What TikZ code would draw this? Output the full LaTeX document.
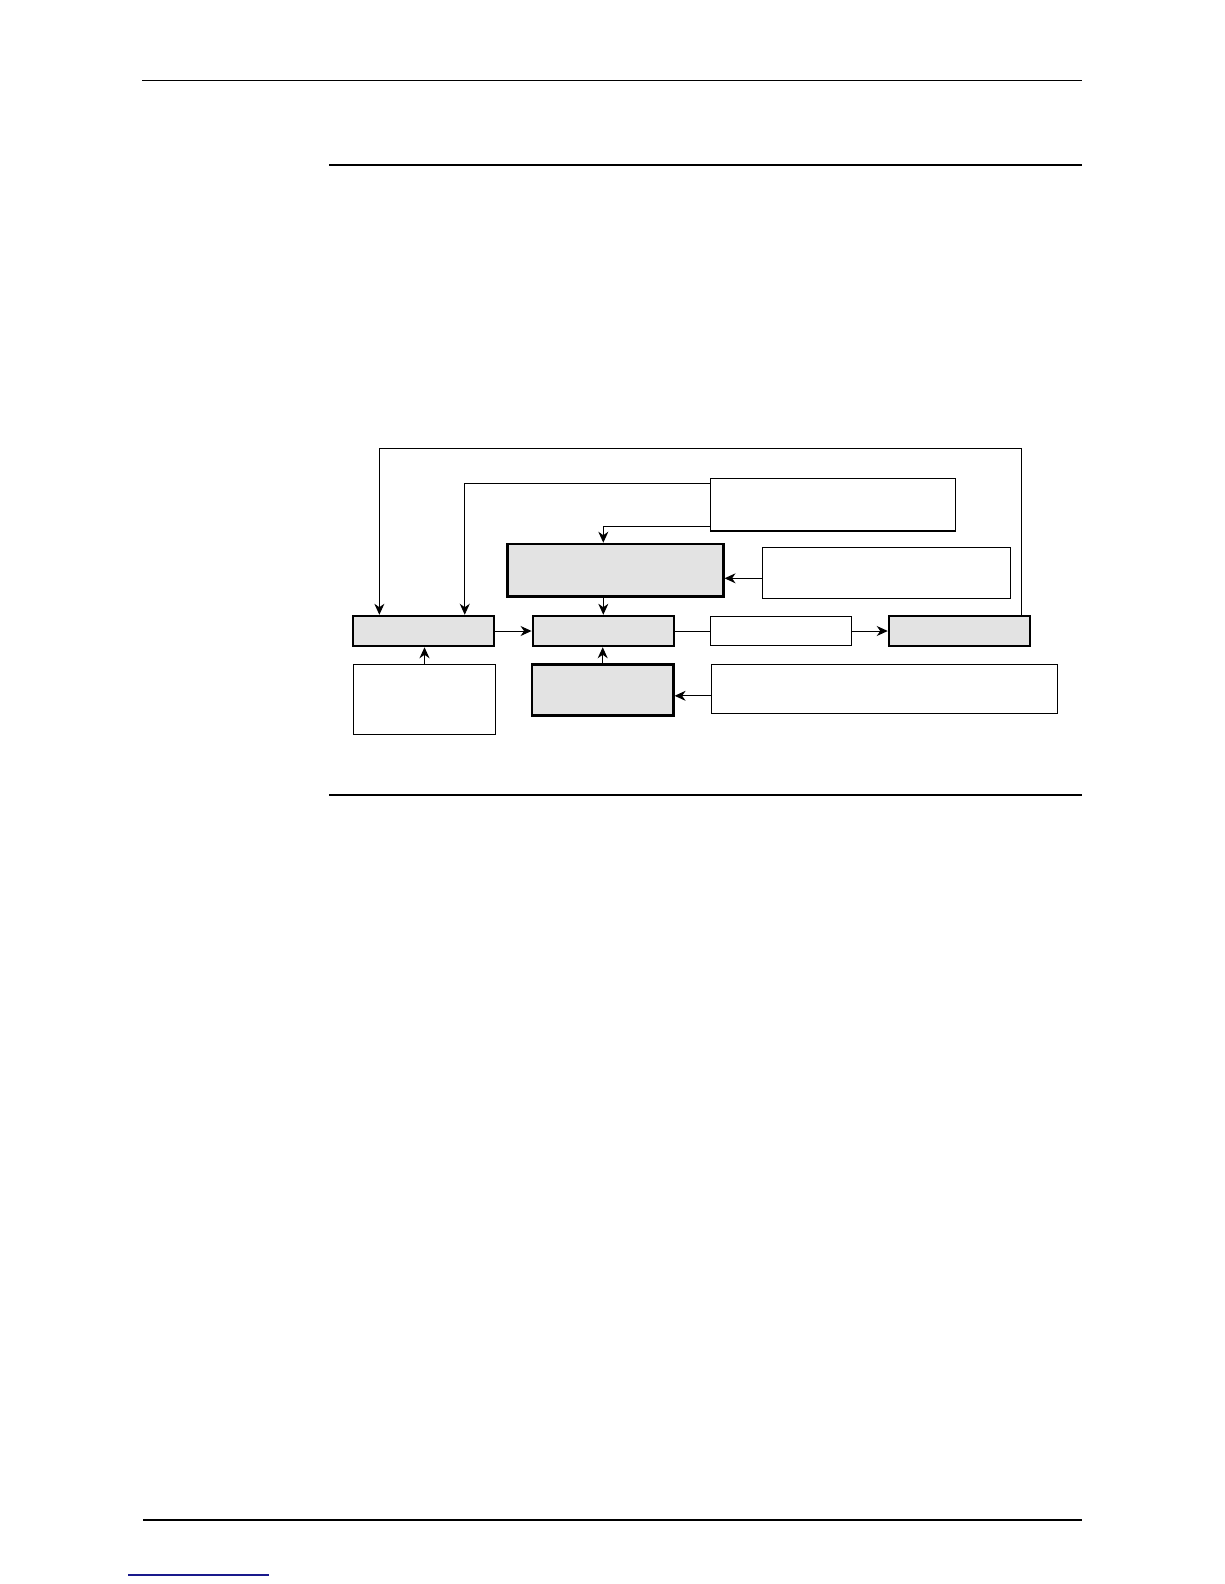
\documentclass[tikz,border=0pt]{standalone}
\usetikzlibrary{arrows.meta}
\definecolor{boxgrey}{RGB}{227,227,227}
\definecolor{linkblue}{RGB}{25,25,140}
\tikzset{
    greybox/.style={draw, line width=2.5pt, fill=boxgrey, minimum width=141pt, minimum height=30pt, inner sep=0pt},
    whitebox/.style={draw, line width=1.2pt, fill=white, inner sep=0pt},
    arr/.style={line width=1pt, -{Stealth[length=11pt, width=10pt, inset=3.5pt]}},
    wire/.style={line width=1pt}
}
\begin{document}
\begin{tikzpicture}[x=1pt, y=-1pt]
        \def \r {631}

        \useasboundingbox (0,0) rectangle (1224,1584);

        \draw[line width=1.1pt] (142,80.3) -- (1082,80.3);
        \draw[line width=1.1pt] (329,165) -- (1082,165);
        \draw[line width=1.1pt] (329,795) -- (1082,795);
        \draw[line width=1.1pt] (143,1520) -- (1082,1520);
        \draw[line width=1.1pt, linkblue] (128,1575) -- (269,1575);

        \node[greybox] (A) at (423.5,\r) {};
        \node[greybox] (B) at (603.3,\r) {};
        \node[whitebox, minimum width=141pt, minimum height=29.6pt] (W) at (781,\r) {};
        \node[greybox] (E) at (959.5,\r) {};
        \node[greybox, minimum width=215.6pt, minimum height=52.7pt] (G) at (615.5,570.3) {};
        \node[whitebox, minimum width=245.4pt, minimum height=52.7pt] (T) at (833,504.7) {};
        \node[whitebox, minimum width=248.4pt, minimum height=51pt] (R1) at (886.5,572.8) {};
        \node[whitebox, minimum width=142.4pt, minimum height=70pt] (L) at (424.5,699.3) {};
        \node[greybox, minimum width=141.3pt, minimum height=51pt] (H) at (602.7,690.2) {};
        \node[whitebox, minimum width=346.4pt, minimum height=49pt] (R2) at (884.5,688.8) {};

        \coordinate (fb) at (0,448.3);
        \coordinate (a1) at ([xshift=27.6pt]A.north west);
        \coordinate (a2) at ([xshift=113pt]A.north west);
        \coordinate (r1) at ([yshift=-5.5pt]R1.west);
        \coordinate (r2) at ([yshift=-7pt]R2.west);

        \draw[arr] ([xshift=-10pt]E.north east) |- (fb -| a1) -- (a1);
        \draw[arr] ([yshift=-6pt]T.north west) -| (a2);
        \draw[arr] ([yshift=5.3pt]T.south west) -| (G.north -| B.north);
        \draw[arr] (r1) -- (G.east |- r1);
        \draw[arr] (G.south -| B.north) -- (B.north);
        \draw[arr] (A.east) -- (B.west);
        \draw[wire] (B.east) -- (W.west);
        \draw[arr] (W.east) -- (E.west);
        \draw[arr] (L.north) -- (L.north |- A.south);
        \draw[arr] (H.north) -- (H.north |- B.south);
        \draw[arr] (r2) -- (H.east |- r2);
    \end{tikzpicture}
\end{document}
